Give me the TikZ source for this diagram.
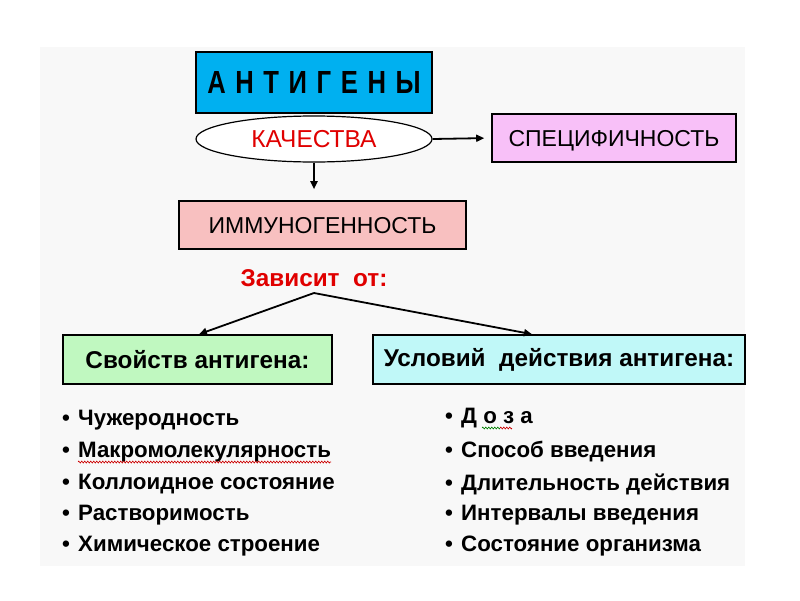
\documentclass[tikz,border=0pt]{standalone}
\usepackage{fontspec}
\setmainfont{Liberation Sans}
\usetikzlibrary{arrows.meta,decorations.pathmorphing,calc,shapes.geometric}
\definecolor{panel}{HTML}{F8F8F8}
\definecolor{antblue}{HTML}{00B0F0}
\definecolor{specpink}{HTML}{F8C0F8}
\definecolor{immpink}{HTML}{F8C0C0}
\definecolor{svgreen}{HTML}{C0F8C0}
\definecolor{uslcyan}{HTML}{C0F8F8}
\definecolor{txtred}{HTML}{E00000}
\begin{document}
\begin{tikzpicture}[x=1pt,y=-1pt,
  box/.style={draw=black,line width=1.6pt,rectangle,inner sep=0pt},
  lbl/.style={font=\fontsize{23}{23}\selectfont,text depth=0pt},
  blbl/.style={font=\fontsize{24.3}{24.3}\selectfont\bfseries},
  item/.style={anchor=base west,inner sep=0pt,font=\fontsize{22.3}{22.3}\selectfont\bfseries},
  conn/.style={line width=1.8pt,-{Triangle[length=8pt,width=7pt]}}]
\useasboundingbox (0,0) rectangle (800,600);
\fill[white] (0,0) rectangle (800,600);
\fill[panel] (40,47) rectangle (745,566);
% top box
\node[box,fill=antblue,minimum width=236pt,minimum height=61pt] (ant) at (314,82.5)
  {\scalebox{0.8}[1]{\fontsize{32}{32}\selectfont\bfseries А\hspace{12pt}Н\hspace{12pt}Т\hspace{12pt}И\hspace{12pt}Г\hspace{12pt}Е\hspace{12pt}Н\hspace{12pt}Ы}};
\node[draw=black,line width=1.2pt,ellipse,fill=white,minimum width=236pt,minimum height=46pt,inner sep=0pt,font=\fontsize{24.5}{24.5}\selectfont,text=txtred] (kach) at (314,139) {КАЧЕСТВА};
\node[box,fill=specpink,minimum width=244pt,minimum height=48pt,lbl] (spec) at (614,138) {СПЕЦИФИЧНОСТЬ};
\node[box,fill=immpink,minimum width=287pt,minimum height=48pt,lbl] (imm) at (322.5,225) {ИММУНОГЕННОСТЬ};
\node[blbl,text=txtred,inner sep=0pt] (zav) at (314,278) {Зависит\ \ от:};
\coordinate (apex) at (314,293);
\node[box,fill=svgreen,minimum width=269pt,minimum height=49pt,blbl] (sv) at (197.5,359.5) {Свойств антигена:};
\node[box,fill=uslcyan,minimum width=372pt,minimum height=49pt,blbl] (usl) at (559,359.5) {Условий\ \ действия антигена:};
% connectors
\draw[conn,shorten >=7pt] (kach.east) -- (spec.west);
\draw[conn,shorten >=11pt] (kach.south) -- (imm.north -| kach.south);
\draw[conn] (apex) -- ($(sv.north)+(1.5,0)$);
\draw[conn] (apex) -- ($(usl.north)+(-27,0)$);
% left list
\node[item] (l1) at (62,425) {\makebox[16pt][l]{•}Чужеродность};
\node[item] (l2) at (62,457) {\makebox[16pt][l]{•}Макромолекулярность};
\node[item] (l3) at (62,489) {\makebox[16pt][l]{•}Коллоидное состояние};
\node[item] (l4) at (62,520) {\makebox[16pt][l]{•}Растворимость};
\node[item] (l5) at (62,551) {\makebox[16pt][l]{•}Химическое строение};
% right list
\node[item] (r1) at (445,423) {\makebox[16pt][l]{•}Д о з а};
\node[item] (r2) at (445,457) {\makebox[16pt][l]{•}Способ введения};
\node[item] (r3) at (445,490) {\makebox[16pt][l]{•}Длительность действия};
\node[item] (r4) at (445,520) {\makebox[16pt][l]{•}Интервалы введения};
\node[item] (r5) at (445,551) {\makebox[16pt][l]{•}Состояние организма};
% spell-check squiggles
\draw[red!80!black,line width=0.6pt,decorate,decoration={zigzag,segment length=3pt,amplitude=1pt}] ($(l2.base west)+(16,5)$) -- ($(l2.base east)+(0,5)$);
\draw[green!50!black,line width=0.6pt,decorate,decoration={zigzag,segment length=3pt,amplitude=1pt}] (482,428) -- (500,428);
\draw[red!80!black,line width=0.6pt,decorate,decoration={zigzag,segment length=3pt,amplitude=1pt}] (500,428) -- (512,428);
\end{tikzpicture}
\end{document}
